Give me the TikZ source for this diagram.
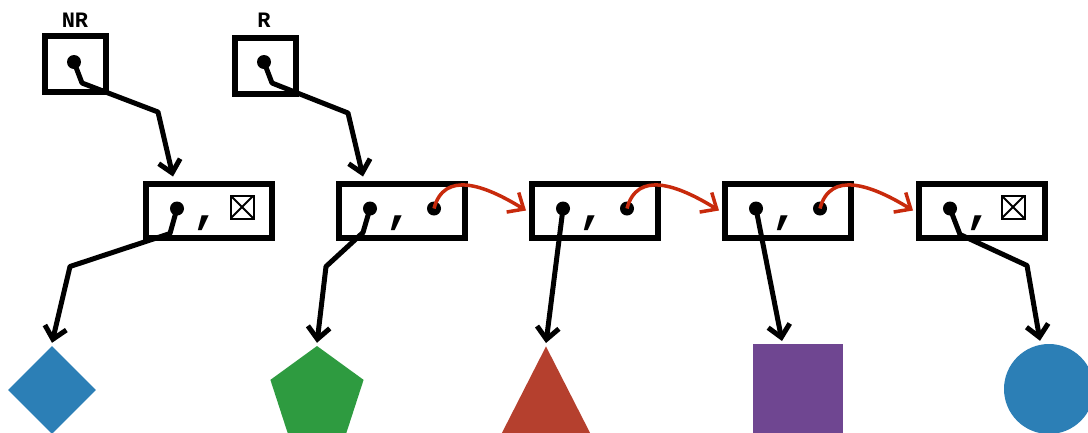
\documentclass[tikz,border=0pt]{standalone}
\usepackage{fontspec}
\setmonofont{Liberation Mono}
\usetikzlibrary{arrows.meta,calc,shapes.geometric}

\definecolor{linkred}{RGB}{200,42,12}
\definecolor{shapeblue}{RGB}{44,127,182}
\definecolor{shapegreen}{RGB}{46,155,64}
\definecolor{shapered}{RGB}{181,64,46}
\definecolor{shapepurple}{RGB}{111,70,145}

\tikzset{
  cell/.style={draw, line width=6pt, minimum width=126pt, minimum height=54pt, inner sep=0pt},
  refbox/.style={draw, line width=6pt, minimum width=61pt, minimum height=56pt, inner sep=0pt},
  ptr/.style={circle, fill, inner sep=0pt, minimum size=14pt},
  nilbox/.style={draw, line width=2pt, minimum size=23pt, inner sep=0pt,
    path picture={\draw[line width=2pt] (path picture bounding box.north west) -- (path picture bounding box.south east)
      (path picture bounding box.north east) -- (path picture bounding box.south west);}},
  comma/.style={font=\ttfamily\bfseries\fontsize{46}{46}\selectfont, inner sep=0pt},
  varname/.style={font=\ttfamily\bfseries\fontsize{22}{22}\selectfont, inner sep=0pt},
  link/.style={-{Straight Barb[length=12pt,width=22pt]}, line width=5pt, line join=round},
  nextlink/.style={-{Straight Barb[length=13pt,width=23pt]}, line width=3.5pt, draw=linkred},
}

\begin{document}
\begin{tikzpicture}[x=1pt, y=-1pt]
  \useasboundingbox (0,0) rectangle (1088,432);
  \clip (0,0) rectangle (1088,432);

  % variables
  \node[refbox] (nrbox) at (75.5,64) {};
  \node[refbox] (rbox) at (265,65.5) {};
  \node[varname] (nrname) at (75,20) {NR};
  \node[varname] (rname) at (264,20) {R};
  \node[ptr] (nrdot) at (74,62) {};
  \node[ptr] (rdot) at (264,62) {};

  % cons cells
  \node[cell] (c1) at (209,210.5) {};
  \node[cell] (c2) at (402,210.5) {};
  \node[cell] (c3) at (595,210.5) {};
  \node[cell] (c4) at (788,210.5) {};
  \node[cell] (c5) at (982,210.5) {};

  \node[ptr] (c1car) at ($(c1)+(-32,-2)$) {};
  \node[ptr] (c2car) at ($(c2)+(-32,-2)$) {};
  \node[ptr] (c3car) at ($(c3)+(-32,-2)$) {};
  \node[ptr] (c4car) at ($(c4)+(-32,-2)$) {};
  \node[ptr] (c5car) at ($(c5)+(-32,-2)$) {};

  \node[comma] (c1sep) at ($(c1)+(-3,13)$) {,};
  \node[comma] (c2sep) at ($(c2)+(-3,13)$) {,};
  \node[comma] (c3sep) at ($(c3)+(-3,13)$) {,};
  \node[comma] (c4sep) at ($(c4)+(-3,13)$) {,};
  \node[comma] (c5sep) at ($(c5)+(-3,13)$) {,};

  \node[nilbox] (c1cdr) at ($(c1)+(33,-3.5)$) {};
  \node[ptr] (c2cdr) at ($(c2)+(32,-2)$) {};
  \node[ptr] (c3cdr) at ($(c3)+(32,-2)$) {};
  \node[ptr] (c4cdr) at ($(c4)+(32,-2)$) {};
  \node[nilbox] (c5cdr) at ($(c5)+(31,-3.5)$) {};

  % values
  \node[diamond, fill=shapeblue, minimum width=88pt, minimum height=88pt, inner sep=0pt] (val1) at (52,390) {};
  \node[regular polygon, regular polygon sides=5, fill=shapegreen, minimum size=98pt, inner sep=0pt] (val2) at (317,395) {};
  \node[isosceles triangle, isosceles triangle apex angle=54, shape border rotate=90, fill=shapered,
        minimum width=120pt, minimum height=120pt, inner sep=0pt, anchor=apex] (val3) at (546,346) {};
  \node[rectangle, fill=shapepurple, minimum width=90pt, minimum height=100pt, inner sep=0pt, anchor=north] (val4) at (798,344) {};
  \node[circle, fill=shapeblue, minimum size=90pt, inner sep=0pt] (val5) at (1049,389) {};

  % pointers
  \draw[link] (nrdot.center) -- ++(8,21) -- ++(76,29) -- ($(c1.north)+(-36,-4)$);
  \draw[link] (rdot.center) -- ++(8,21) -- ++(76,30) -- ($(c2.north)+(-39,-4)$);

  \draw[link] (c1car.center) -- ++(-7,25) -- ++(-100,33) -- ([yshift=3pt]val1.north);
  \draw[link] (c2car.center) -- ++(-7,24) -- ++(-37,34) -- ([yshift=3pt]val2.north);
  \draw[link] (c3car.center) -- ([yshift=3pt]val3.apex);
  \draw[link] (c4car.center) -- ($(val4.north)+(-16,-3)$);
  \draw[link] (c5car.center) -- ++(10,26) -- ++(67,31) -- ($(val5.north)+(-9,-3)$);

  \draw[nextlink] (c2cdr.center) .. controls +(10,-38) and +(-42,-26) .. ([xshift=-3pt]c3.west);
  \draw[nextlink] (c3cdr.center) .. controls +(10,-38) and +(-42,-26) .. ([xshift=-3pt]c4.west);
  \draw[nextlink] (c4cdr.center) .. controls +(10,-38) and +(-42,-26) .. ([xshift=-3pt]c5.west);
\end{tikzpicture}
\end{document}
